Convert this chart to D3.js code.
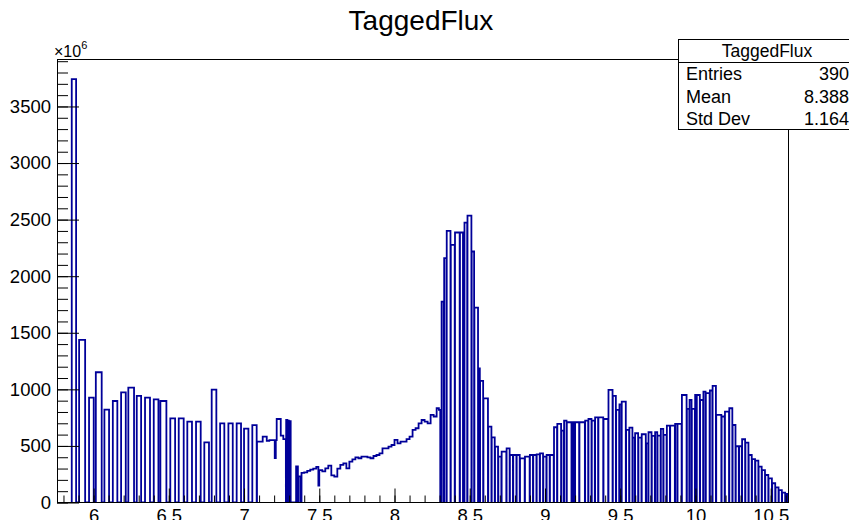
<!DOCTYPE html>
<html>
<head>
<meta charset="utf-8">
<script src="https://cdn.jsdelivr.net/npm/d3@7"></script>
<style>
  body { margin: 0; background: #fff; }
  svg { display: block; font-family: "Liberation Sans", Arial, Helvetica, sans-serif; }
</style>
</head>
<body>
<svg id="chart" width="849" height="520"></svg>
<script>
// tagger channels: [E low, E high, flux (x10^6)]
const lowEChannels = [
  [5.855, 5.884, 3742], [5.904, 5.944, 1437], [5.970, 6.001, 927], [6.015, 6.054, 1151],
  [6.072, 6.103, 821], [6.128, 6.158, 897], [6.183, 6.214, 974], [6.231, 6.269, 1015],
  [6.287, 6.316, 942], [6.342, 6.375, 927], [6.400, 6.431, 912], [6.444, 6.484, 897],
  [6.510, 6.542, 744], [6.566, 6.599, 744], [6.623, 6.654, 714], [6.681, 6.712, 714],
  [6.736, 6.767, 532], [6.785, 6.816, 997], [6.841, 6.869, 700], [6.896, 6.925, 700],
  [6.951, 6.980, 700], [7.000, 7.029, 653], [7.055, 7.084, 683]
];
const midEChannels = [
  [7.086, 7.124, 538], [7.124, 7.151, 582], [7.151, 7.168, 545], [7.168, 7.204, 552],
  [7.204, 7.211, 393], [7.211, 7.217, 552], [7.217, 7.244, 738], [7.244, 7.261, 591],
  [7.261, 7.278, 560], [7.280, 7.288, 729], [7.290, 7.298, 724], [7.300, 7.310, 718]
];
const rampChannels = [
  [7.346, 7.358, 320], [7.364, 7.378, 230], [7.382, 7.400, 262], [7.400, 7.420, 267],
  [7.420, 7.440, 279], [7.440, 7.460, 290], [7.460, 7.480, 300], [7.480, 7.494, 315],
  [7.494, 7.500, 150], [7.500, 7.520, 287], [7.520, 7.540, 275], [7.540, 7.560, 302],
  [7.560, 7.580, 326], [7.580, 7.600, 240], [7.600, 7.620, 228], [7.620, 7.640, 300],
  [7.640, 7.660, 332], [7.660, 7.680, 346], [7.680, 7.700, 302], [7.700, 7.720, 361],
  [7.720, 7.740, 382], [7.740, 7.760, 399], [7.760, 7.780, 391], [7.780, 7.800, 405],
  [7.800, 7.820, 405], [7.820, 7.840, 398], [7.840, 7.860, 391], [7.860, 7.880, 411],
  [7.880, 7.900, 420], [7.900, 7.920, 435], [7.920, 7.940, 479], [7.940, 7.960, 479],
  [7.960, 7.980, 494], [7.980, 8.000, 508], [8.000, 8.020, 553], [8.020, 8.040, 523],
  [8.040, 8.060, 538], [8.060, 8.080, 538], [8.080, 8.100, 560], [8.100, 8.120, 582],
  [8.120, 8.140, 641], [8.140, 8.160, 656], [8.160, 8.180, 700], [8.180, 8.200, 729],
  [8.200, 8.220, 715], [8.220, 8.240, 700], [8.240, 8.260, 774], [8.260, 8.280, 760],
  [8.280, 8.295, 833], [8.295, 8.304, 818]
];
const peakChannels = [
  [8.313, 8.327, 1776], [8.330, 8.345, 2159], [8.347, 8.372, 2400], [8.374, 8.400, 2277],
  [8.402, 8.433, 2386], [8.435, 8.455, 2386], [8.457, 8.463, 2336], [8.465, 8.483, 2474],
  [8.485, 8.511, 2536], [8.513, 8.529, 2218], [8.531, 8.555, 1722], [8.557, 8.567, 1186],
  [8.569, 8.589, 1074], [8.591, 8.621, 921], [8.623, 8.644, 670], [8.646, 8.666, 576],
  [8.668, 8.688, 493], [8.690, 8.710, 405], [8.712, 8.743, 449], [8.745, 8.765, 479],
  [8.767, 8.787, 420], [8.789, 8.810, 420], [8.812, 8.832, 420], [8.834, 8.865, 390],
  [8.867, 8.898, 405], [8.900, 8.920, 420], [8.922, 8.943, 420], [8.945, 8.965, 425],
  [8.967, 8.987, 435], [8.989, 9.009, 405], [9.011, 9.031, 420], [9.033, 9.058, 420]
];
const highEChannels = [
  [9.060, 9.080, 665], [9.082, 9.107, 694], [9.109, 9.125, 635], [9.127, 9.143, 723],
  [9.145, 9.176, 709], [9.178, 9.186, 458], [9.188, 9.198, 709], [9.200, 9.227, 709],
  [9.229, 9.265, 709], [9.267, 9.287, 723], [9.289, 9.309, 738], [9.311, 9.331, 723],
  [9.333, 9.353, 753], [9.355, 9.387, 753], [9.389, 9.420, 738], [9.422, 9.449, 995],
  [9.451, 9.471, 942], [9.473, 9.493, 818], [9.495, 9.508, 868], [9.510, 9.537, 891],
  [9.539, 9.559, 641], [9.561, 9.581, 661], [9.583, 9.597, 573], [9.599, 9.619, 612],
  [9.621, 9.641, 573], [9.643, 9.670, 603], [9.672, 9.686, 523], [9.688, 9.708, 621],
  [9.710, 9.730, 588], [9.732, 9.746, 621], [9.748, 9.768, 591], [9.770, 9.786, 650],
  [9.788, 9.808, 597], [9.810, 9.830, 679], [9.832, 9.863, 679], [9.865, 9.879, 694],
  [9.881, 9.908, 694], [9.910, 9.941, 950], [9.943, 9.959, 827], [9.961, 9.974, 906],
  [9.976, 9.996, 827], [9.998, 10.007, 950], [10.009, 10.029, 950], [10.031, 10.051, 906],
  [10.053, 10.067, 980], [10.069, 10.094, 966], [10.096, 10.112, 990], [10.114, 10.136, 1030],
  [10.138, 10.172, 774], [10.174, 10.194, 760], [10.196, 10.223, 803], [10.225, 10.245, 833]
];
const tailChannels = [
  [10.247, 10.266, 685], [10.268, 10.288, 497], [10.290, 10.308, 497], [10.310, 10.330, 559],
  [10.332, 10.352, 530], [10.354, 10.374, 420], [10.376, 10.396, 383], [10.398, 10.418, 370],
  [10.420, 10.440, 317], [10.442, 10.462, 287], [10.464, 10.484, 243], [10.486, 10.508, 214],
  [10.510, 10.530, 170], [10.532, 10.552, 134], [10.554, 10.574, 110], [10.576, 10.596, 87],
  [10.598, 10.610, 75]
];

const xTickLabels = [6, 6.5, 7, 7.5, 8, 8.5, 9, 9.5, 10, 10.5];
const yTickLabels = [0, 500, 1000, 1500, 2000, 2500, 3000, 3500];
const statNames = ['Entries', 'Mean', 'Std Dev'];
const statValues = ['390', '8.388', '1.164'];
const histName = 'TaggedFlux';

const histColor = '#000099';
const svg = d3.select('#chart');

const frameLeft = 57, frameRight = 788, frameTop = 59.5, frameBottom = 502.5;
const x = d3.scaleLinear().domain([5.757, 10.615]).range([frameLeft, frameRight]);
const y = d3.scaleLinear().domain([0, 3915]).range([frameBottom, frameTop]);

// histogram outline
const channels = [].concat(lowEChannels, midEChannels, rampChannels,
  peakChannels, highEChannels, tailChannels).sort((a, b) => a[0] - b[0]);

const pts = [[channels[0][0], 0]];
let prevHi = channels[0][0];
channels.forEach(c => {
  if (c[0] > prevHi + 1e-6) {
    pts.push([prevHi, 0]);
    pts.push([c[0], 0]);
  }
  pts.push([c[0], c[2]]);
  pts.push([c[1], c[2]]);
  prevHi = c[1];
});
pts.push([prevHi, 0]);

svg.append('clipPath').attr('id', 'frameClip')
  .append('rect').attr('x', frameLeft).attr('y', frameTop)
  .attr('width', frameRight - frameLeft).attr('height', frameBottom - frameTop);

const line = d3.line().x(d => x(d[0])).y(d => y(d[1]));
svg.append('path')
  .datum(pts)
  .attr('clip-path', 'url(#frameClip)')
  .attr('d', line)
  .attr('fill', 'none')
  .attr('stroke', histColor)
  .attr('stroke-width', 1.8);

// axes
function styleAxis(g, size) {
  g.select('.domain').remove();
  g.selectAll('line').attr('stroke', '#000');
  g.selectAll('text').attr('fill', '#000')
    .style('font-family', '"Liberation Sans", Arial, sans-serif')
    .style('font-size', size);
}

const xMinor = d3.range(58, 107).map(i => i / 10);
svg.append('g').attr('transform', `translate(0,${frameBottom})`)
  .call(d3.axisBottom(x).tickValues(xMinor).tickSize(-7).tickFormat(''))
  .call(g => styleAxis(g, '18px'));
svg.append('g').attr('transform', `translate(0,${frameBottom})`)
  .call(d3.axisBottom(x).tickValues(xTickLabels).tickSize(-14).tickPadding(6.5).tickFormat(d3.format('')))
  .call(g => styleAxis(g, '18.5px'));

const yMinor = d3.range(0, 3901, 100);
svg.append('g').attr('transform', `translate(${frameLeft},0)`)
  .call(d3.axisLeft(y).tickValues(yMinor).tickSize(-11).tickFormat(''))
  .call(g => styleAxis(g, '18px'));
svg.append('g').attr('transform', `translate(${frameLeft},0)`)
  .call(d3.axisLeft(y).tickValues(yTickLabels).tickSize(-22).tickPadding(6).tickFormat(d3.format('')))
  .call(g => styleAxis(g, '18.5px'));

// frame
svg.append('rect')
  .attr('x', frameLeft + 0.5).attr('y', frameTop)
  .attr('width', frameRight - frameLeft).attr('height', frameBottom - frameTop)
  .attr('fill', 'none').attr('stroke', '#000').attr('stroke-width', 1);

// x10^6 exponent
const expo = svg.append('text').attr('x', 54).attr('y', 57)
  .style('font-size', '16px');
expo.append('tspan').text('\u00d710');
expo.append('tspan').attr('dy', -8).style('font-size', '11px').text('6');

// title
svg.append('text')
  .attr('x', 421).attr('y', 30)
  .attr('text-anchor', 'middle')
  .style('font-size', '28px')
  .text(histName);

// stats box
const box = svg.append('g');
box.append('rect')
  .attr('x', 678.5).attr('y', 39.5).attr('width', 200).attr('height', 90)
  .attr('fill', '#fff').attr('stroke', '#000');
box.append('line')
  .attr('x1', 678.5).attr('x2', 880).attr('y1', 62.5).attr('y2', 62.5)
  .attr('stroke', '#000');
box.append('text')
  .attr('x', 767).attr('y', 57)
  .attr('text-anchor', 'middle')
  .style('font-size', '17.5px')
  .text(histName);
statNames.forEach((n, i) => {
  box.append('text').attr('x', 686).attr('y', 80 + i * 22.5)
    .style('font-size', '18px').text(n);
  box.append('text').attr('x', 849).attr('y', 80 + i * 22.5)
    .attr('text-anchor', 'end')
    .style('font-size', '18px').text(statValues[i]);
});
</script>
</body>
</html>
